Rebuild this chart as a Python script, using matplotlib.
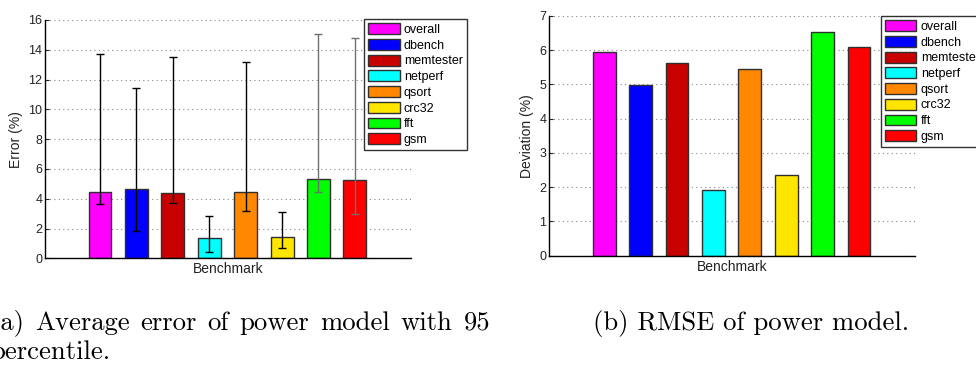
"""Power model error / RMSE bar charts (two panels with captions)."""

import numpy as np
import matplotlib
matplotlib.use("Agg")
import matplotlib.pyplot as plt
from matplotlib.patches import Patch


# ---------------------------------------------------------------------------
# data
# ---------------------------------------------------------------------------
benchmarks = ["overall", "dbench", "memtester", "netperf",
              "qsort", "crc32", "fft", "gsm"]
bar_colors = ["#ff00ff", "#0000ff", "#c80000", "#00ffff",
              "#ff8800", "#ffe600", "#00ff00", "#ff0000"]

avg_error = [4.48, 4.63, 4.36, 1.34, 4.43, 1.43, 5.35, 5.24]
err_low = [3.62, 1.86, 3.69, 0.40, 3.20, 0.72, 4.48, 2.98]
err_high = [13.72, 11.46, 13.54, 2.86, 13.20, 3.13, 15.04, 14.77]
err_colors = ["black", "black", "black", "black",
              "black", "black", "#707070", "#707070"]

rmse = [5.94, 4.98, 5.63, 1.91, 5.44, 2.37, 6.52, 6.09]

caption_a = ["(a) Average error of power model with 95", "percentile."]
caption_b = "(b) RMSE of power model."

# ---------------------------------------------------------------------------
# style
# ---------------------------------------------------------------------------
plt.rcParams["font.family"] = ["Liberation Sans", "DejaVu Sans"]
TICK_FS = 9
LABEL_FS = 10
CAP_FS = 19.2
EDGE = "#303030"
BAR_W = 0.63
XLIM = (-0.51, 9.54)
W, H = 976, 365


def style_axes(ax, ylim, yticks, ylabel):
    ax.set_xlim(*XLIM)
    ax.set_ylim(*ylim)
    ax.set_yticks(yticks)
    ax.set_xticks([])
    for side in ("top", "right"):
        ax.spines[side].set_visible(False)
    for side in ("left", "bottom"):
        ax.spines[side].set_linewidth(1.0)
        ax.spines[side].set_color("black")
    ax.tick_params(axis="y", direction="in", length=3, labelsize=TICK_FS,
                   pad=2, colors="#222222")
    ax.set_axisbelow(True)
    ax.yaxis.grid(True, linestyle=(0, (1, 3)), color="#888888", linewidth=0.8)
    ax.set_xlabel("Benchmark", fontsize=LABEL_FS, labelpad=3, color="#222222")
    ax.set_ylabel(ylabel, fontsize=LABEL_FS, labelpad=4, color="#222222")


def add_legend(fig, x_px, y_px):
    handles = [Patch(facecolor=c, edgecolor=EDGE, linewidth=1.0)
               for c in bar_colors]
    leg = fig.legend(handles, benchmarks, loc="upper left",
                     bbox_to_anchor=(x_px / W, 1 - y_px / H),
                     bbox_transform=fig.transFigure,
                     fontsize=TICK_FS, frameon=True, fancybox=False,
                     handlelength=2.5, handleheight=0.95, handletextpad=0.35,
                     labelspacing=0.24, borderpad=0.35, borderaxespad=0)
    leg.get_frame().set_edgecolor("black")
    leg.get_frame().set_linewidth(1.0)
    return leg


def justified_line(fig, text, x0_px, x1_px, y_px, **kw):
    """Place words so the line spans x0..x1 (like a justified LaTeX line)."""
    words = text.split()
    renderer = fig.canvas.get_renderer()
    widths = []
    for w in words:
        t = fig.text(0, 0, w, **kw)
        widths.append(t.get_window_extent(renderer).width)
        t.remove()
    gap = (x1_px - x0_px - sum(widths)) / (len(words) - 1)
    x = x0_px
    for w, wd in zip(words, widths):
        fig.text(x / W, 1 - y_px / H, w, ha="left", **kw)
        x += wd + gap


fig = plt.figure(figsize=(W / 100, H / 100), dpi=100)
x = np.arange(1, len(benchmarks) + 1)

# ---- (a) average error with 95 percentile ----
ax1 = fig.add_axes([45 / W, 1 - 258.3 / H, 366 / W, 238.3 / H])
ax1.bar(x, avg_error, width=BAR_W, color=bar_colors, edgecolor=EDGE,
        linewidth=1.0, zorder=2)
avg = np.array(avg_error)
yerr = np.vstack([avg - np.array(err_low), np.array(err_high) - avg])
for i in range(len(x)):
    ax1.errorbar(x[i], avg[i], yerr=yerr[:, i:i + 1], fmt="none",
                 ecolor=err_colors[i], elinewidth=1.0, capsize=3,
                 capthick=1.0, zorder=3)
style_axes(ax1, (0, 16), np.arange(0, 17, 2), "Error (%)")
add_legend(fig, 364, 19)

# ---- (b) RMSE ----
ax2 = fig.add_axes([549.3 / W, 1 - 255.7 / H, 365.7 / W, 239.7 / H])
ax2.bar(x, rmse, width=BAR_W, color=bar_colors, edgecolor=EDGE,
        linewidth=1.0, zorder=2)
style_axes(ax2, (0, 7), np.arange(0, 8, 1), "Deviation (%)")
add_legend(fig, 880.7, 16)

# ---- captions ----
cap_kw = dict(fontsize=CAP_FS, family="cmr10", va="baseline", color="black")
justified_line(fig, caption_a[0], -10, 490, 330, **cap_kw)
fig.text(-10 / W, 1 - 359 / H, caption_a[1], ha="left", **cap_kw)
fig.text(751 / W, 1 - 330 / H, caption_b, ha="center", **cap_kw)

fig.savefig("out.png", dpi=100)
